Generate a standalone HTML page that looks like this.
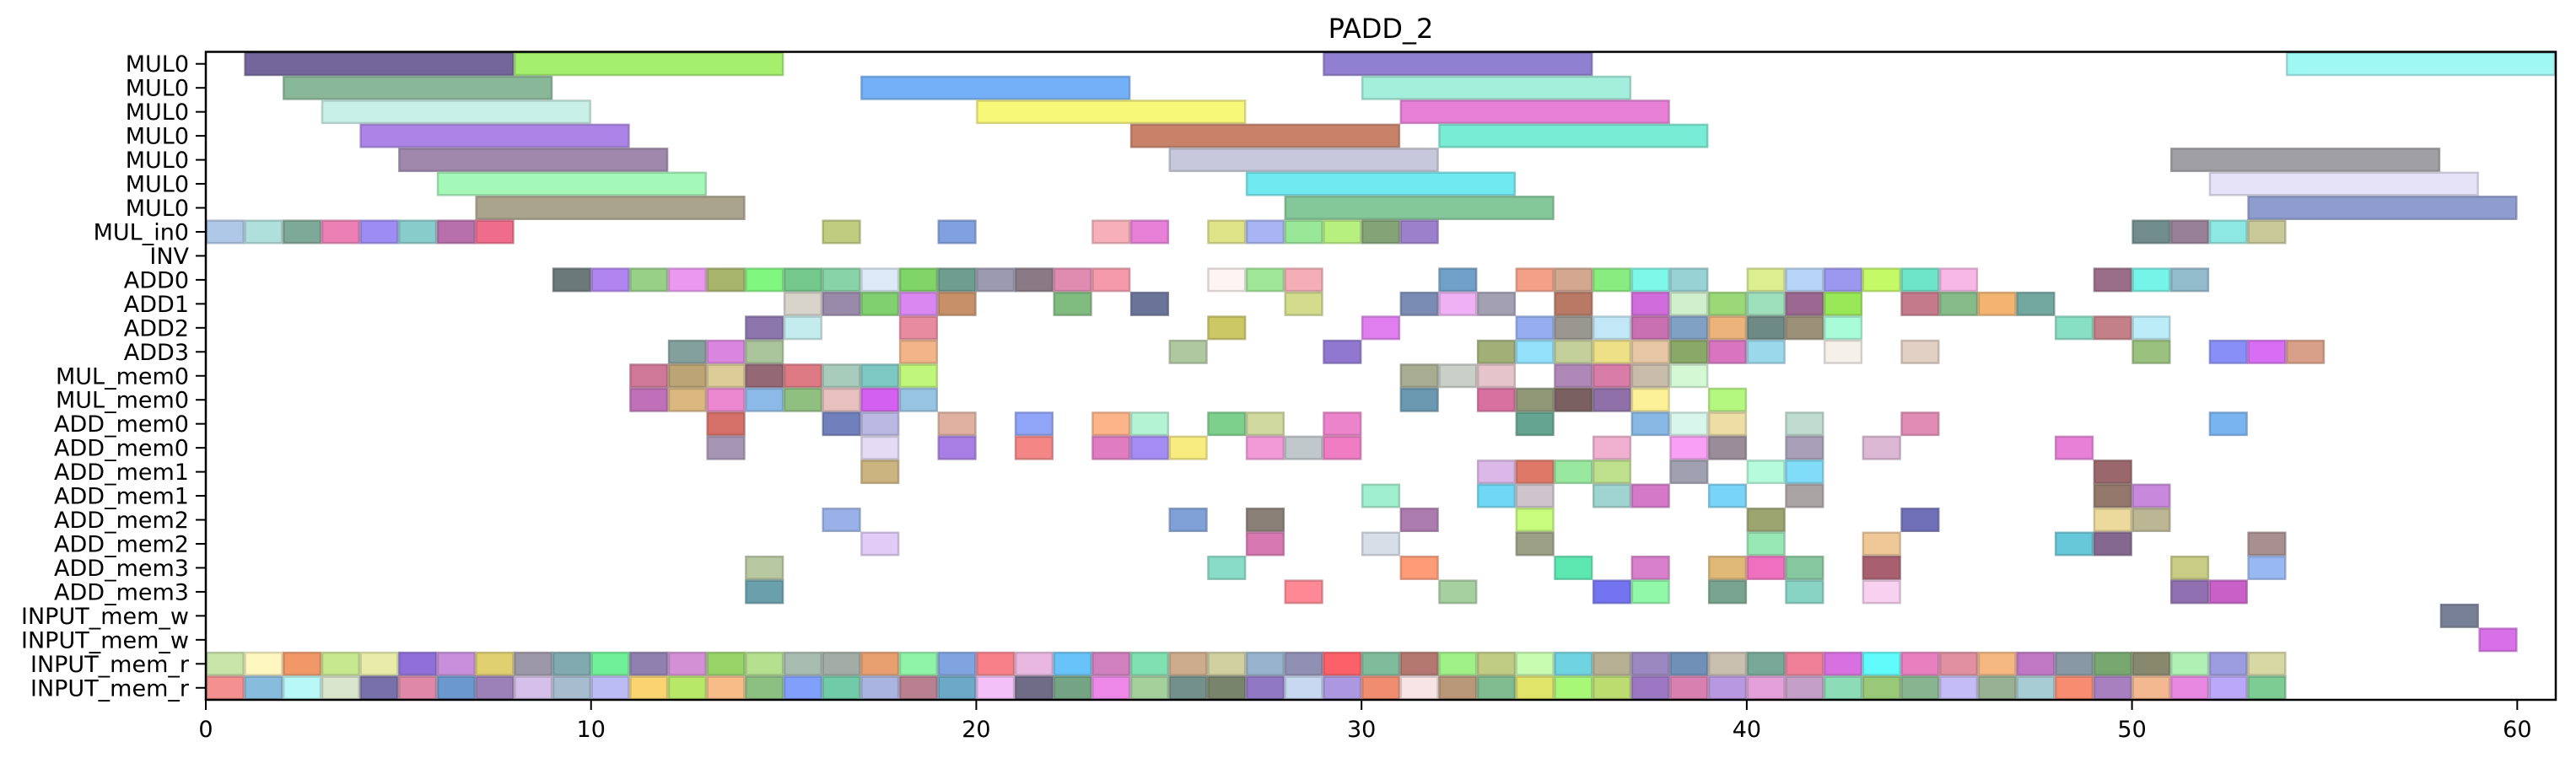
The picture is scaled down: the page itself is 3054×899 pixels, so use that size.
<!DOCTYPE html>
<html><head><meta charset="utf-8"><title>PADD_2</title>
<style>html,body{margin:0;padding:0;background:#fff;}svg{display:block;font-family:"DejaVu Sans","Liberation Sans",sans-serif;}</style>
</head><body>
<svg id="chart" width="3054" height="899" viewBox="0 0 3054 899" xmlns="http://www.w3.org/2000/svg">
<defs><clipPath id="plotclip"><rect x="244" y="61.5" width="2786" height="768.5"/></clipPath></defs>
<rect x="0" y="0" width="3054" height="899" fill="#fff"/>
<text x="1637" y="45" font-size="32" text-anchor="middle" fill="#000">PADD_2</text>
<g id="bars" clip-path="url(#plotclip)"></g>
<g id="axes"></g>
</svg>
<script>
const rowLabels = ["MUL0","MUL0","MUL0","MUL0","MUL0","MUL0","MUL0","MUL_in0","INV","ADD0","ADD1","ADD2","ADD3","MUL_mem0","MUL_mem0","ADD_mem0","ADD_mem0","ADD_mem1","ADD_mem1","ADD_mem2","ADD_mem2","ADD_mem3","ADD_mem3","INPUT_mem_w","INPUT_mem_w","INPUT_mem_r","INPUT_mem_r"];
const rowDurations = [7,7,7,7,7,7,7,1,1,1,1,1,1,1,1,1,1,1,1,1,1,1,1,1,1,1,1];
const xTicks = [0,10,20,30,40,50,60];
const rowStarts = [
[1,8,29,54],
[2,17,30],
[3,20,31],
[4,24,32],
[5,25,51],
[6,27,52],
[7,28,53],
[0,1,2,3,4,5,6,7,16,19,23,24,26,27,28,29,30,31,50,51,52,53],
[],
[9,10,11,12,13,14,15,16,17,18,19,20,21,22,23,26,27,28,32,34,35,36,37,38,40,41,42,43,44,45,49,50,51],
[15,16,17,18,19,22,24,28,31,32,33,35,37,38,39,40,41,42,44,45,46,47],
[14,15,18,26,30,34,35,36,37,38,39,40,41,42,48,49,50],
[12,13,14,18,25,29,33,34,35,36,37,38,39,40,42,44,50,52,53,54],
[11,12,13,14,15,16,17,18,31,32,33,35,36,37,38],
[11,12,13,14,15,16,17,18,31,33,34,35,36,37,39],
[13,16,17,19,21,23,24,26,27,29,34,37,38,39,41,44,52],
[13,17,19,21,23,24,25,27,28,29,36,38,39,41,43,48],
[17,33,34,35,36,38,40,41,49],
[30,33,34,36,37,39,41,49,50],
[16,25,27,31,34,40,44,49,50],
[17,27,30,34,40,43,48,49,53],
[14,26,31,35,37,39,40,41,43,51,53],
[14,28,32,36,37,39,41,43,51,52],
[58],
[59],
[0,1,2,3,4,5,6,7,8,9,10,11,12,13,14,15,16,17,18,19,20,21,22,23,24,25,26,27,28,29,30,31,32,33,34,35,36,37,38,39,40,41,42,43,44,45,46,47,48,49,50,51,52,53],
[0,1,2,3,4,5,6,7,8,9,10,11,12,13,14,15,16,17,18,19,20,21,22,23,24,25,26,27,28,29,30,31,32,33,34,35,36,37,38,39,40,41,42,43,44,45,46,47,48,49,50,51,52,53]
];
const rowColors = [
['#72669a','#a4f06c','#9080d0','#a0f8f4'],
['#88b898','#74b0f8','#a4eedc'],
['#c8f0e6','#f8f878','#e880d8'],
['#ac84e8','#c8826a','#78ecd4'],
['#9f88ac','#c8c8dc','#a0a0a4'],
['#a4f8b8','#70eaf0','#e6e2f8'],
['#aaa48c','#84c89a','#8e9ccf'],
['#b0c8e8','#b0e0dc','#7ea898','#ec80b4','#9c8cf4','#88cccc','#b870ac','#f06c8c','#c0cc80','#80a0e0','#f8b0b8','#e880d8','#e0e488','#a8b4f4','#98e898','#b8f080','#84a478','#9c80cc','#708c8c','#988098','#8ce8e0','#c8c898'],
[],
['#6b7a78','#b085f0','#98d088','#eb99f0','#a6b46c','#80f880','#74c88c','#88d4a8','#dceaf8','#80d468','#6e9e90','#9c9ab0','#8a7a86','#e08cb0','#f49aaa','#fef4f2','#a0e898','#f6aeb6','#70a0c8','#f4a088','#d4a890','#88ec80','#7ef8e8','#98d2d4','#dcee90','#b8d4f8','#9c98f0','#c4fa66','#6ee4c8','#f8b8e6','#9a6e88','#76f4e8','#92bccc'],
['#d8d4cc','#9a8aaa','#80d070','#d888f0','#c89068','#80bc80','#6a7498','#d2dc8c','#7a8cb4','#f0b0f4','#a4a0b4','#b87a64','#d06cdc','#d0f0cc','#9ad878','#9ee0bc','#9a6890','#98e858','#c47a8a','#86bc8a','#f2b470','#72a8a0'],
['#8c76ac','#c4ecec','#e88aa0','#ccc866','#e07ef0','#94aef0','#9a9690','#c2e8f8','#c870b0','#80a0c4','#ecb47a','#6e8a84','#9c9078','#a8fcd8','#88e0c4','#c48088','#bcecf8'],
['#84a09c','#da86e0','#aac49c','#f2b488','#b0c8a0','#9078d0','#a2b078','#92e0fa','#c4d09c','#eee086','#e8c8a4','#8aa868','#d874c0','#9cd8ec','#f6f0ea','#e2d0c4','#9ac27e','#8890f8','#d86ef4','#d8a088'],
['#d07898','#bca474','#dccc98','#946874','#de7a84','#a8ccbc','#7ec8c4','#c0f67a','#a8ac90','#c8d0c8','#e6c4cc','#b088b8','#d87ca8','#c8bcaa','#d4f8d4'],
['#c070b8','#dab880','#ec88d0','#8cbae8','#90c080','#e8c0c0','#d460f0','#98c4e4','#6a98b0','#d870a0','#909878','#7a6060','#9070a8','#fcf098','#b4f880'],
['#d47068','#7080bc','#bcb8e4','#e0b0a0','#90a4f8','#fcb488','#b4f4d4','#7cd08c','#d0da9e','#ec84cc','#64a490','#88b8e4','#d8f6ec','#ecdea4','#c0dcd0','#e08cb4','#7ab4f0'],
['#a696b4','#e4dcf4','#a87ee4','#f48686','#e07cc0','#a48cf4','#f8ec80','#f29ad8','#c0c8cc','#f07cc4','#f0b0d0','#f8a0f4','#9a8c98','#a8a0b8','#dcb8d4','#e880d8'],
['#ccb480','#dcb8e8','#e07868','#98e8a0','#bee08c','#a0a0b0','#b4fcdc','#80dcf8','#9a686c'],
['#a0f0d0','#70d8f4','#d0c4cc','#a0d4d0','#d478c8','#78d4f8','#aaa4a4','#94786c','#c888dc'],
['#9ab0e8','#80a0d8','#8a8078','#ac7cb0','#c8fc7c','#9ca470','#7070b8','#ecda9c','#bcb694'],
['#e0ccf6','#d878b0','#d8dee8','#9ca084','#98e8b4','#f0c898','#66c8d8','#846890','#a89090'],
['#b8c8a0','#88dcc8','#fe9c78','#5ce8b0','#d880cc','#e0b878','#f070c0','#88c8a0','#a86070','#c8cc84','#98b8f4'],
['#6aa0ac','#fe8894','#a6d0a0','#7474f0','#90f8a8','#78a490','#88d4c4','#f8d0f0','#9070b0','#c860c8'],
['#788098'],
['#d870e8'],
['#c8e4a8','#fef8c0','#f09868','#c8e890','#e8eca8','#9070d8','#c890dc','#e0d070','#9c98a8','#80aab0','#70f098','#9080b0','#d490d4','#98d468','#b4e090','#a8bcb0','#a4aca8','#e8a070','#90f4a8','#80a4e0','#f88088','#e8b8e0','#68c4f8','#d080bc','#80e0b0','#ccac8c','#d0d0a0','#98b4cc','#9090b4','#fc6068','#80bc9c','#b47870','#a0f088','#c0cc84','#c8fcb0','#70d4e0','#b8b094','#9c88c0','#7090b8','#cac0b0','#78a898','#f08098','#d870e0','#60fcfc','#e880c0','#e090a0','#f4b880','#c078c4','#8898a4','#78a870','#88886c','#b0f0b4','#9c9ce0','#d8d8a4'],
['#f49090','#88bcdc','#b8f8f8','#d8e4cc','#7870a8','#e088a8','#6c98d0','#9c80b8','#d4c0e8','#a8bcd0','#bcbcf4','#fad470','#b8e868','#f8bc88','#8cc080','#80a0fc','#70cca8','#aab4e0','#b88090','#6ca8c8','#f4c0f8','#706c88','#74a484','#ee88e8','#a4d09c','#74908a','#78846c','#9078c4','#c8d8f0','#ac98e0','#f08c70','#f8e4e4','#b89878','#80bc90','#e0e468','#a8f878','#bcdc70','#9c78c4','#d880b0','#b898e0','#e4a0d8','#c4a0c8','#8cdcb8','#98c878','#88b490','#c4bcf4','#98b094','#a8ccd4','#f88c70','#a880c0','#f2b890','#e888e0','#bca8f8','#7ccc94']
];

const NS = "http://www.w3.org/2000/svg";
const PL = 244, PR = 3030, PT = 61.5, PB = 830;
const X0 = 0, X1 = 61, Y0 = -0.5, Y1 = 26.5;
function xs(v){ return PL + (v - X0) / (X1 - X0) * (PR - PL); }
function ys(v){ return PT + (v - Y0) / (Y1 - Y0) * (PB - PT); }
function darken(hex, f){
  const n = parseInt(hex.slice(1), 16);
  const r = Math.round(((n >> 16) & 255) * f), g = Math.round(((n >> 8) & 255) * f), b = Math.round((n & 255) * f);
  return "rgb(" + r + "," + g + "," + b + ")";
}
const barsG = document.getElementById("bars");
const axesG = document.getElementById("axes");
const BH = 1.0;
rowStarts.forEach(function(starts, r){
  starts.forEach(function(s, i){
    const rect = document.createElementNS(NS, "rect");
    const x = xs(s), w = xs(s + rowDurations[r]) - x;
    const y = ys(r - BH / 2), h = ys(r + BH / 2) - y;
    rect.setAttribute("x", x + 1);
    rect.setAttribute("y", y + 1);
    rect.setAttribute("width", w - 2);
    rect.setAttribute("height", h - 2);
    rect.setAttribute("fill", rowColors[r][i] || "#999");
    rect.setAttribute("stroke", darken(rowColors[r][i] || "#999999", 0.8));
    rect.setAttribute("stroke-width", "2.5");
    rect.setAttribute("stroke-opacity", "0.75");
    
    
    barsG.appendChild(rect);
  });
});
const frame = document.createElementNS(NS, "rect");
frame.setAttribute("x", PL); frame.setAttribute("y", PT);
frame.setAttribute("width", PR - PL); frame.setAttribute("height", PB - PT);
frame.setAttribute("fill", "none"); frame.setAttribute("stroke", "#000"); frame.setAttribute("stroke-width", "2.5");


axesG.appendChild(frame);
rowLabels.forEach(function(lab, r){
  const y = ys(r);
  const t = document.createElementNS(NS, "line");
  t.setAttribute("x1", PL - 12); t.setAttribute("x2", PL); t.setAttribute("y1", y); t.setAttribute("y2", y);
  t.setAttribute("stroke", "#000"); t.setAttribute("stroke-width", "2");
  
  
  axesG.appendChild(t);
  const tx = document.createElementNS(NS, "text");
  tx.setAttribute("x", PL - 20); tx.setAttribute("y", y + 9.5);
  tx.setAttribute("font-size", "27"); tx.setAttribute("text-anchor", "end"); tx.setAttribute("fill", "#000");
  tx.textContent = lab;
  
  
  axesG.appendChild(tx);
});
xTicks.forEach(function(v){
  const x = xs(v);
  const t = document.createElementNS(NS, "line");
  t.setAttribute("x1", x); t.setAttribute("x2", x); t.setAttribute("y1", PB); t.setAttribute("y2", PB + 12);
  t.setAttribute("stroke", "#000"); t.setAttribute("stroke-width", "2");
  
  
  axesG.appendChild(t);
  const tx = document.createElementNS(NS, "text");
  tx.setAttribute("x", x); tx.setAttribute("y", PB + 44);
  tx.setAttribute("font-size", "27"); tx.setAttribute("text-anchor", "middle"); tx.setAttribute("fill", "#000");
  tx.textContent = String(v);
  
  
  axesG.appendChild(tx);
});
</script>
</body></html>
